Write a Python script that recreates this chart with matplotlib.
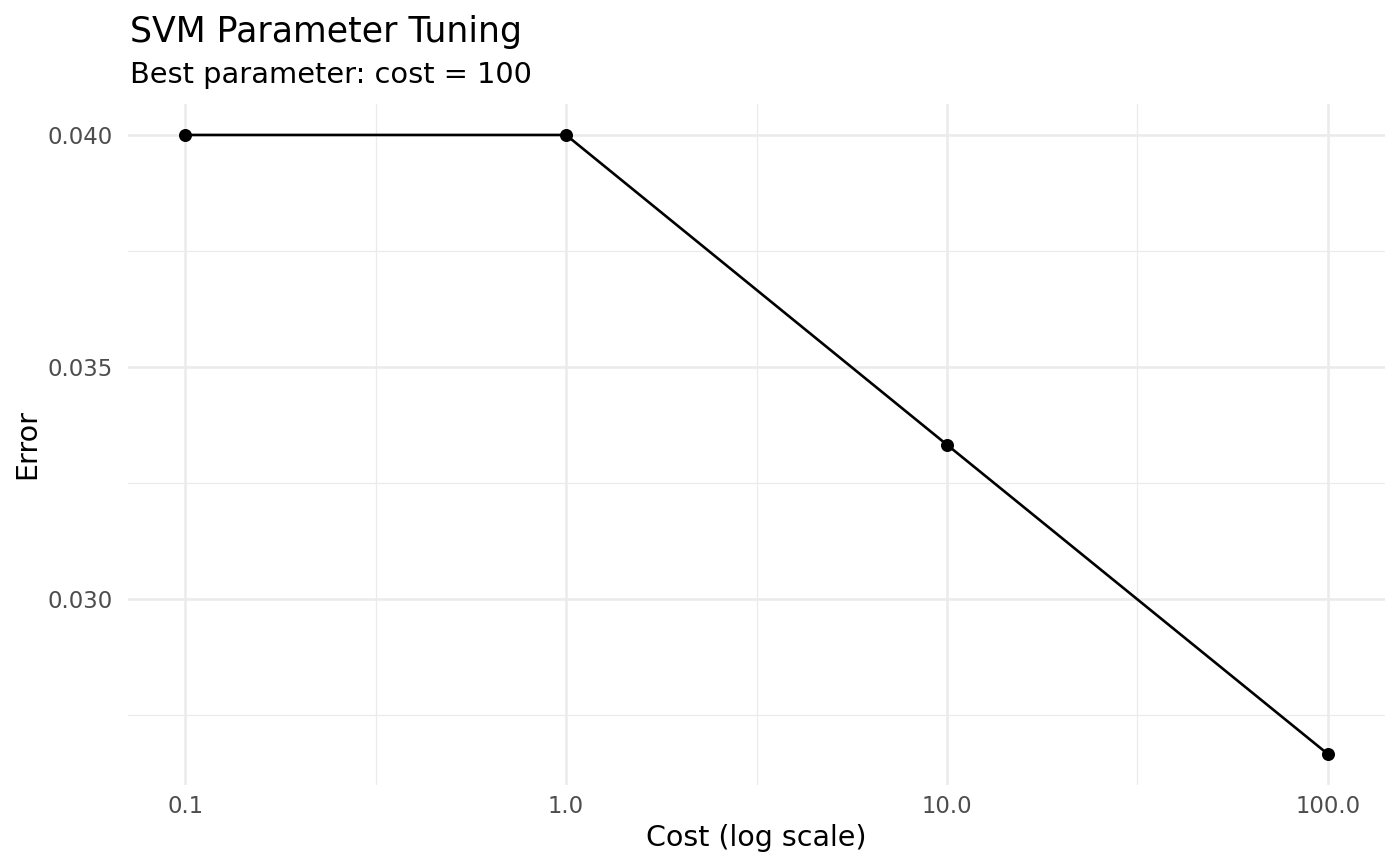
import matplotlib
matplotlib.use("Agg")
import matplotlib.pyplot as plt
import numpy as np
from matplotlib.ticker import FixedLocator, FixedFormatter

cost = [0.1, 1.0, 10.0, 100.0]
error = [0.04, 0.04, 0.03333, 0.02667]
xtick_vals = [0.1, 1.0, 10.0, 100.0]
xtick_labels = ["0.1", "1.0", "10.0", "100.0"]
ytick_vals = [0.030, 0.035, 0.040]
ytick_labels = ["0.030", "0.035", "0.040"]

W, H = 1400, 866
fig = plt.figure(figsize=(W / 100, H / 100), dpi=100)
left, right, top, bottom = 128, 1385, 104, 785
ax = fig.add_axes([left / W, 1 - bottom / H, (right - left) / W, (bottom - top) / H])

ax.set_xscale("log")
lx = np.log10(cost)
pad = (lx.max() - lx.min()) * 0.05
ax.set_xlim(10 ** (lx.min() - pad), 10 ** (lx.max() + pad))
ypad = (max(error) - min(error)) * 0.05
ax.set_ylim(min(error) - ypad, max(error) + ypad)

ax.xaxis.set_major_locator(FixedLocator(xtick_vals))
ax.xaxis.set_major_formatter(FixedFormatter(xtick_labels))
xminor = [np.sqrt(xtick_vals[i] * xtick_vals[i + 1]) for i in range(len(xtick_vals) - 1)]
ax.xaxis.set_minor_locator(FixedLocator(xminor))
ax.xaxis.set_minor_formatter(FixedFormatter([""] * len(xminor)))
ax.yaxis.set_major_locator(FixedLocator(ytick_vals))
ax.yaxis.set_major_formatter(FixedFormatter(ytick_labels))
yminor = [0.0275, 0.0325, 0.0375]
ax.yaxis.set_minor_locator(FixedLocator(yminor))

ax.grid(which="major", color="#EBEBEB", linewidth=1.8)
ax.grid(which="minor", color="#EBEBEB", linewidth=0.9)
ax.set_axisbelow(True)
for s in ax.spines.values():
    s.set_visible(False)
ax.tick_params(which="both", length=0)
ax.tick_params(axis="both", which="major", labelsize=16.4, labelcolor="#4D4D4D")
ax.tick_params(axis="x", pad=7)
ax.tick_params(axis="y", pad=11)

ax.plot(cost, error, color="black", linewidth=1.9, zorder=3)
ax.scatter(cost, error, color="black", s=88, zorder=4, linewidths=0)

fig.text((left + right) / 2 / W, 1 - 846 / H, "Cost (log scale)", fontsize=20.5,
         ha="center", va="baseline")
fig.text(27 / W, 1 - (top + bottom) / 2 / H, "Error", fontsize=20.5, rotation=90,
         ha="center", va="center")

fig.text(130 / W, 1 - 42 / H, "SVM Parameter Tuning", fontsize=25, ha="left", va="baseline")
fig.text(130 / W, 1 - 83 / H, "Best parameter: cost = 100", fontsize=20.8, ha="left", va="baseline")

fig.savefig("out.png", dpi=100, facecolor="white")
